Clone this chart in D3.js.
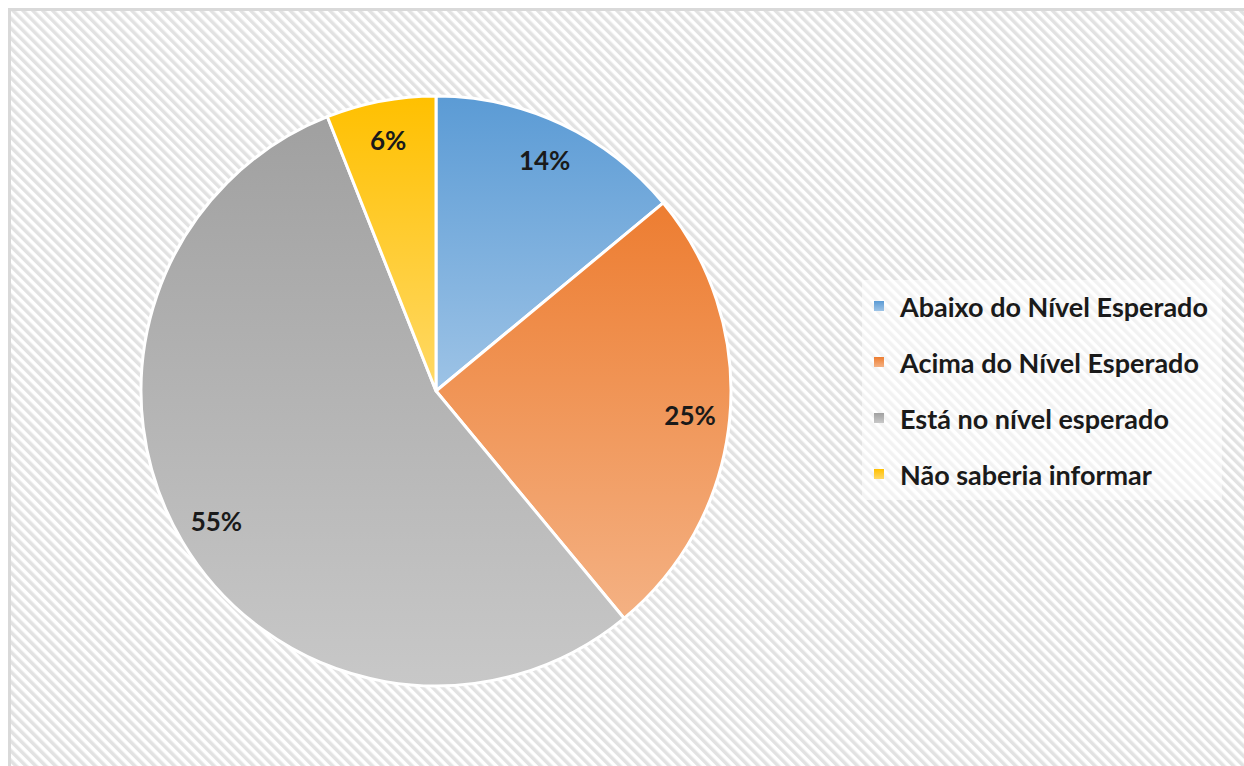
<!DOCTYPE html>
<html><head><meta charset="utf-8">
<script src="https://cdn.jsdelivr.net/npm/d3@7"></script>
<style>body{margin:0;background:#fff;}svg{display:block;}</style>
</head><body>
<svg id="c" width="1244" height="766"></svg>
<script>
const categories = ["Abaixo do Nível Esperado","Acima do Nível Esperado","Está no nível esperado","Não saberia informar"];
const values = [14, 25, 55, 6];
const labels = ["14%","25%","55%","6%"];
const topColors = ["#5b9bd5","#ed7d31","#a0a0a0","#ffc000"];
const bottomColors = ["#9dc3e6","#f4b183","#c8c8c8","#ffd966"];

const svg = d3.select("#c");
const defs = svg.append("defs");
const pat = defs.append("pattern").attr("id","hatch").attr("patternUnits","userSpaceOnUse")
  .attr("width",7).attr("height",7).attr("patternTransform","rotate(-45)");
pat.append("rect").attr("width",7).attr("height",7).attr("fill","#ffffff");
pat.append("rect").attr("width",3.5).attr("height",7).attr("fill","#e2e2e2");

svg.append("rect").attr("x",0).attr("y",0).attr("width",1244).attr("height",766).attr("fill","#fff");
svg.append("rect").attr("x",9.5).attr("y",9.5).attr("width",1260).attr("height",780)
  .attr("fill","url(#hatch)").attr("stroke","#d9d9d9").attr("stroke-width",3);

categories.forEach((c,i)=>{
  const g = defs.append("linearGradient").attr("id","g"+i).attr("x1",0).attr("y1",0).attr("x2",0).attr("y2",1);
  g.append("stop").attr("offset","0%").attr("stop-color",topColors[i]);
  g.append("stop").attr("offset","100%").attr("stop-color",bottomColors[i]);
});

const cx = 436, cy = 391, R = 295;
const pie = d3.pie().sort(null).value(d=>d)(values);
const arc = d3.arc().innerRadius(0).outerRadius(R);
const labelArc = d3.arc().innerRadius(R*0.865).outerRadius(R*0.865);
const g = svg.append("g").attr("transform",`translate(${cx},${cy})`);
g.selectAll("path").data(pie).join("path")
  .attr("d",arc).attr("fill",(d,i)=>`url(#g${i})`)
  .attr("stroke","#fff").attr("stroke-width",3).attr("stroke-linejoin","round");
g.selectAll("text").data(pie).join("text")
  .attr("transform",d=>`translate(${labelArc.centroid(d)})`)
  .attr("text-anchor","middle").attr("dominant-baseline","central")
  .attr("font-family","Lato, 'Open Sans', sans-serif").attr("font-weight","bold")
  .attr("font-size",26).attr("fill","#1a1a1a")
  .text((d,i)=>labels[i]);

// legend
svg.append("rect").attr("x",862).attr("y",280).attr("width",360).attr("height",220)
  .attr("fill","#fff").attr("opacity",0.55);
const lg = svg.append("g").attr("transform","translate(874,0)");
const ly = d3.scalePoint().domain(categories).range([306,474]);
const items = lg.selectAll("g").data(categories).join("g")
  .attr("transform",d=>`translate(0,${ly(d)})`);
items.append("rect").attr("x",0).attr("y",-5).attr("width",10).attr("height",10)
  .attr("fill",(d,i)=>`url(#g${i})`);
items.append("text").attr("x",26).attr("y",0).attr("dominant-baseline","central")
  .attr("font-family","Lato, 'Open Sans', sans-serif").attr("font-weight","bold")
  .attr("font-size",27).attr("fill","#1a1a1a").text(d=>d);
</script>
</body></html>
